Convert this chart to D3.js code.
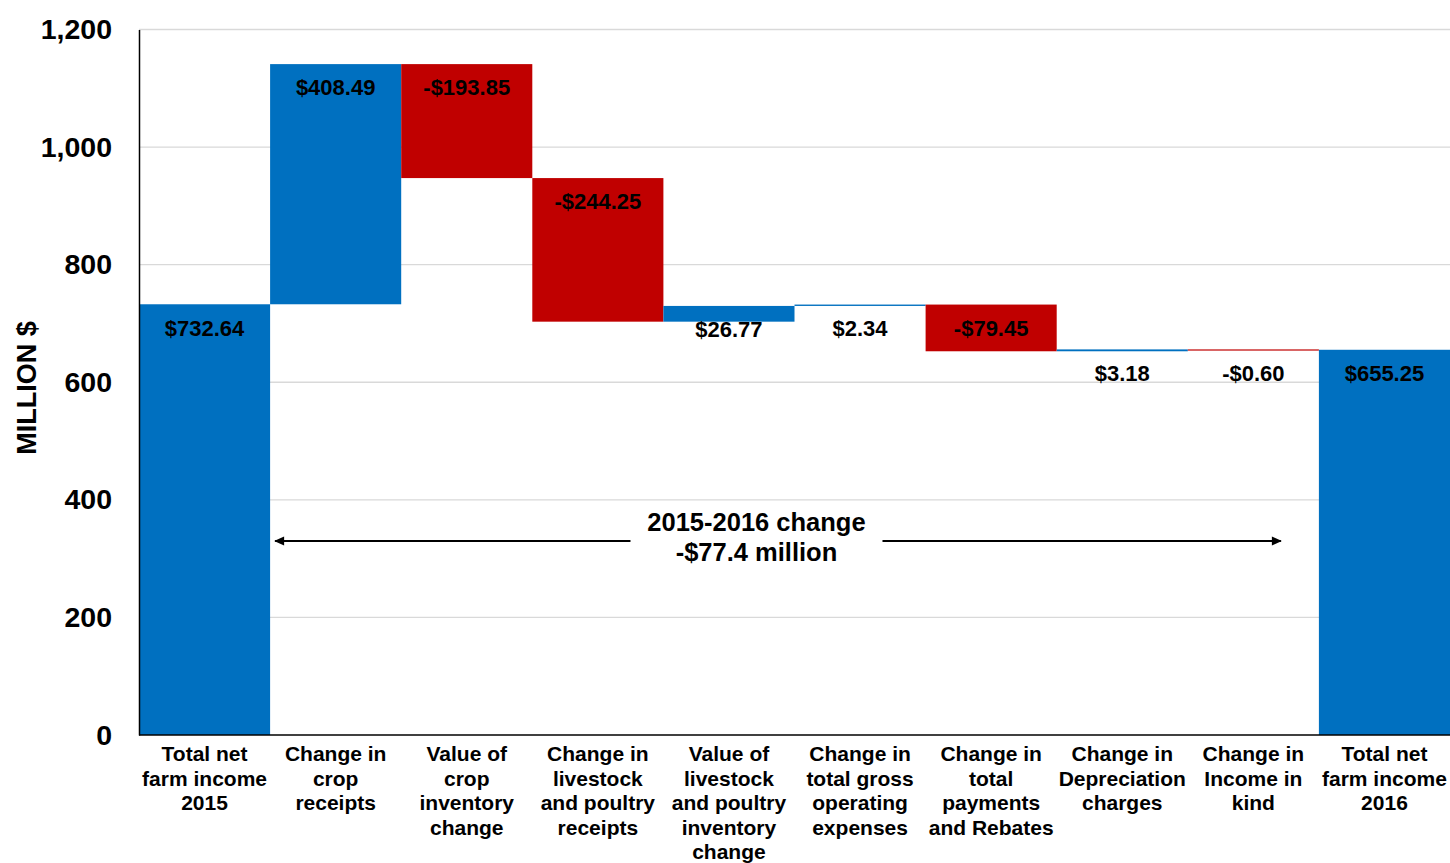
<!DOCTYPE html>
<html>
<head>
<meta charset="utf-8">
<script src="https://cdn.jsdelivr.net/npm/d3@7"></script>
<style>
  html, body { margin: 0; padding: 0; background: #fff; }
  svg { display: block; font-family: "Liberation Sans", Arial, sans-serif; }
</style>
</head>
<body>
<svg id="chart" width="1450" height="863"></svg>
<script>
// Waterfall: net farm income 2015 -> 2016 (million $)
const categories = [
  ["Total net", "farm income", "2015"],
  ["Change in", "crop", "receipts"],
  ["Value of", "crop", "inventory", "change"],
  ["Change in", "livestock", "and poultry", "receipts"],
  ["Value of", "livestock", "and poultry", "inventory", "change"],
  ["Change in", "total gross", "operating", "expenses"],
  ["Change in", "total", "payments", "and Rebates"],
  ["Change in", "Depreciation", "charges"],
  ["Change in", "Income in", "kind"],
  ["Total net", "farm income", "2016"]
];
const values = [732.64, 408.49, -193.85, -244.25, 26.77, 2.34, -79.45, 3.18, -0.60, 655.25];
const isTotal = [true, false, false, false, false, false, false, false, false, true];
const valueLabels = ["$732.64", "$408.49", "-$193.85", "-$244.25", "$26.77", "$2.34", "-$79.45", "$3.18", "-$0.60", "$655.25"];
const yTicks = [0, 200, 400, 600, 800, 1000, 1200];
const annotationLines = ["2015-2016 change", "-$77.4 million"];
const annotationSpan = [1, 8];   // arrow runs across these categories
const annotationValue = 330;

const BLUE = "#0070C0", RED = "#C00000";

const svg = d3.select("#chart");
const margin = { left: 139, top: 29.5, right: 0, bottom: 128 };
const W = 1450, H = 863;
const plotW = W - margin.left - margin.right;
const plotH = H - margin.top - margin.bottom;

const g = svg.append("g").attr("transform", `translate(${margin.left},${margin.top})`);

const x = d3.scaleBand().domain(d3.range(categories.length)).range([0, plotW]).padding(0);
const y = d3.scaleLinear().domain([0, 1200]).range([plotH, 0]);

// build running segments
let running = 0;
const segs = values.map((v, i) => {
  let lo, hi;
  if (isTotal[i]) { lo = 0; hi = v; running = v; }
  else { const start = running; running += v; lo = Math.min(start, running); hi = Math.max(start, running); }
  return { i, v, lo, hi, color: (isTotal[i] || v >= 0) ? BLUE : RED, label: valueLabels[i] };
});

// gridlines
g.append("g").selectAll("line").data(yTicks.filter(t => t > 0)).join("line")
  .attr("x1", 0).attr("x2", plotW)
  .attr("y1", d => y(d)).attr("y2", d => y(d))
  .attr("stroke", "#d9d9d9").attr("stroke-width", 1.3);

// bars
g.append("g").selectAll("rect").data(segs).join("rect")
  .attr("x", d => x(d.i))
  .attr("width", x.bandwidth())
  .attr("y", d => y(d.hi))
  .attr("height", d => Math.max(1.2, y(d.lo) - y(d.hi)))
  .attr("fill", d => d.color);

// value labels, just under the upper edge of each bar
g.append("g").selectAll("text").data(segs).join("text")
  .attr("x", d => x(d.i) + x.bandwidth() / 2)
  .attr("y", d => y(d.hi) + 25.5)
  .attr("text-anchor", "middle")
  .attr("dominant-baseline", "middle")
  .attr("font-size", 22).attr("font-weight", "bold").attr("fill", "#000")
  .text(d => d.label);

// axes
const yAxis = g.append("g").call(d3.axisLeft(y).tickValues(yTicks).tickFormat(d3.format(",")).tickSize(0).tickPadding(27));
yAxis.select(".domain").attr("stroke", "#000").attr("stroke-width", 1.5);
yAxis.selectAll("text").attr("font-size", 28.5).attr("font-weight", "bold").attr("fill", "#000")
  .attr("font-family", "'Liberation Sans', Arial, sans-serif");

g.append("line").attr("x1", 0).attr("x2", plotW).attr("y1", y(0)).attr("y2", y(0))
  .attr("stroke", "#000").attr("stroke-width", 1.5);

// category labels
const catG = g.append("g").selectAll("text").data(categories).join("text")
  .attr("text-anchor", "middle")
  .attr("font-size", 21).attr("font-weight", "bold").attr("fill", "#000")
  .attr("transform", (d, i) => `translate(${x(i) + x.bandwidth() / 2},${y(0) + 26})`);
catG.selectAll("tspan").data(d => d).join("tspan")
  .attr("x", 0).attr("dy", (d, j) => j === 0 ? 0 : 24.5).text(d => d);

// y-axis title
svg.append("text")
  .attr("transform", `translate(36,388) rotate(-90)`)
  .attr("text-anchor", "middle")
  .attr("font-size", 27).attr("font-weight", "bold").attr("fill", "#000")
  .text("MILLION $");

// annotation arrow with centred text
const defs = svg.append("defs");
defs.append("marker").attr("id", "arrowHead").attr("viewBox", "0 0 10 10")
  .attr("refX", 9).attr("refY", 5).attr("markerWidth", 11).attr("markerHeight", 10)
  .attr("markerUnits", "userSpaceOnUse")
  .attr("orient", "auto-start-reverse")
  .append("path").attr("d", "M0,0.5 L10,5 L0,9.5 Z").attr("fill", "#000");

const ax1 = x(annotationSpan[0]) + 5, ax2 = x(annotationSpan[1]) + x.bandwidth() - 38;
const ay = y(annotationValue);
const textCx = x.step() * 4.71;
const gapHalf = 126;
g.append("line").attr("x1", textCx - gapHalf).attr("x2", ax1).attr("y1", ay).attr("y2", ay)
  .attr("stroke", "#000").attr("stroke-width", 2).attr("marker-end", "url(#arrowHead)");
g.append("line").attr("x1", textCx + gapHalf).attr("x2", ax2).attr("y1", ay).attr("y2", ay)
  .attr("stroke", "#000").attr("stroke-width", 2).attr("marker-end", "url(#arrowHead)");
g.append("g").selectAll("text").data(annotationLines).join("text")
  .attr("x", textCx)
  .attr("y", (d, i) => ay - 17 + i * 30)
  .attr("text-anchor", "middle").attr("dominant-baseline", "middle")
  .attr("font-size", 25.5).attr("font-weight", "bold").attr("fill", "#000")
  .text(d => d);
</script>
</body>
</html>
